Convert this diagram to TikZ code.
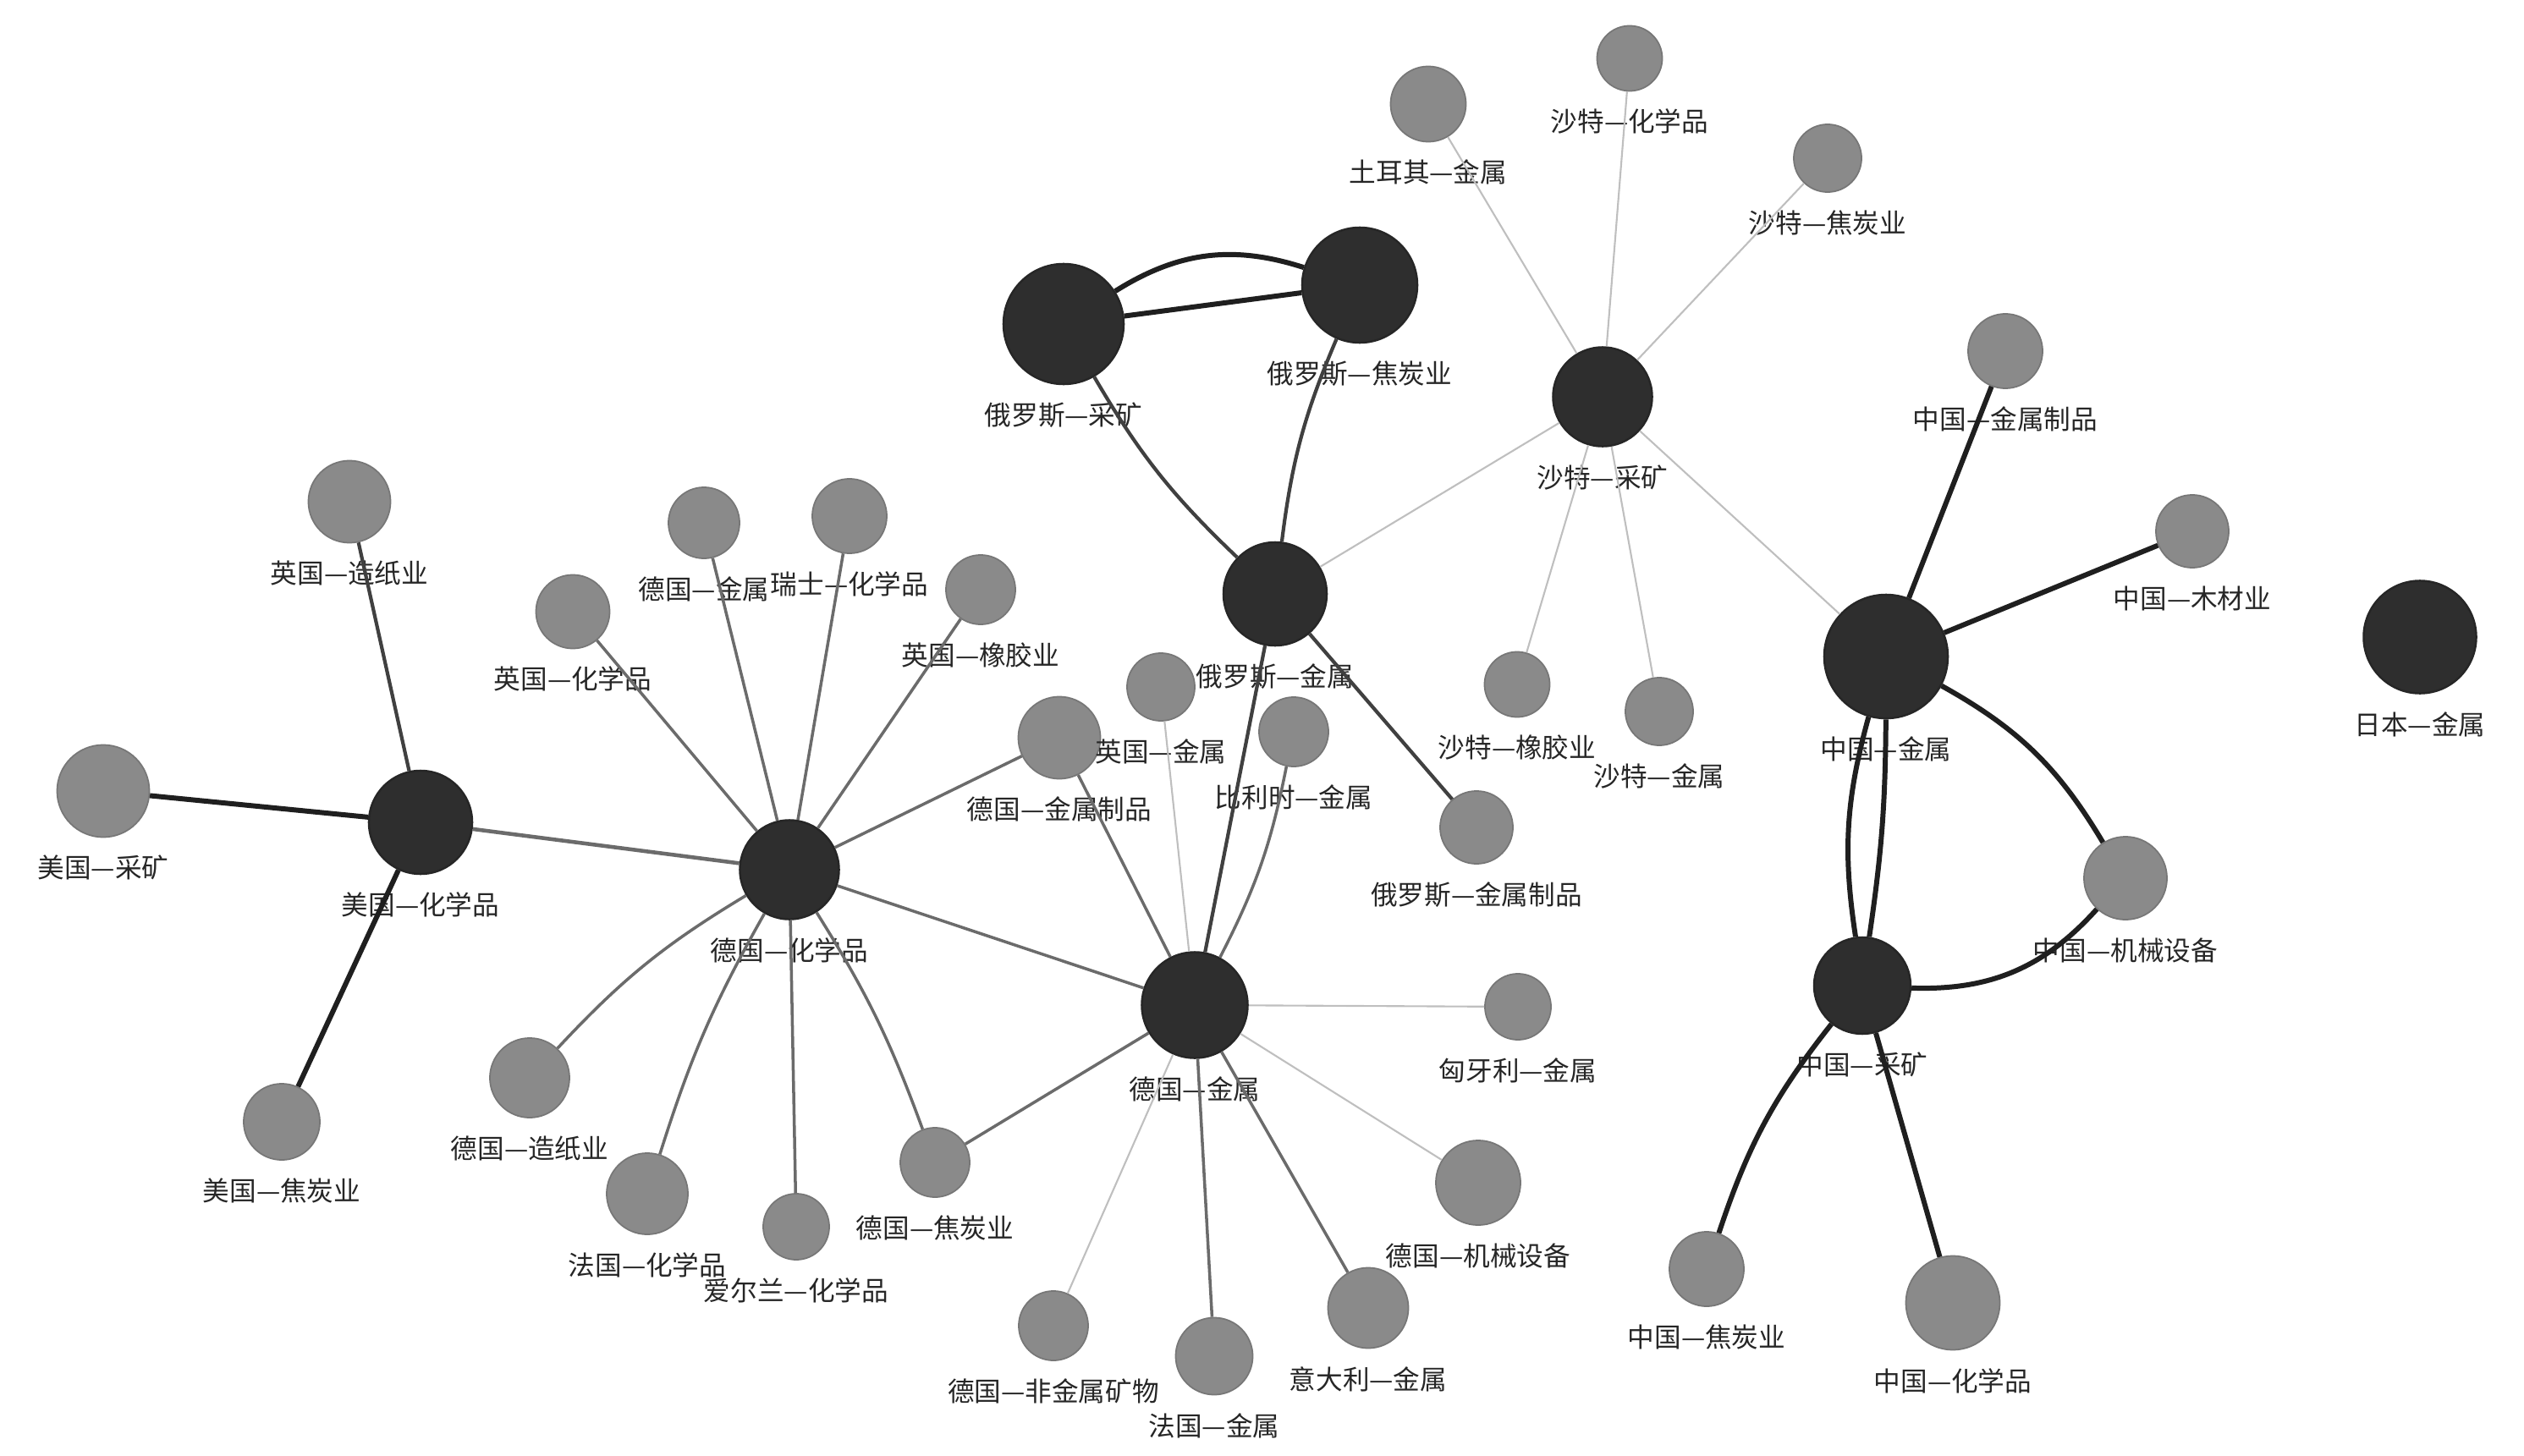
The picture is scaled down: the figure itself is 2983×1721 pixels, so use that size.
\documentclass[tikz,border=0pt]{standalone}
\usepackage{fontspec}
\newfontfamily\cjk{Noto Sans CJK SC}
\usepackage{tikz}
\definecolor{hubfill}{HTML}{2E2E2E}
\definecolor{leaffill}{HTML}{8A8A8A}
\definecolor{leafline}{HTML}{777777}
\tikzset{
  hub/.style={circle, draw=black!85, line width=0.7pt, fill=hubfill, inner sep=0pt},
  leaf/.style={circle, draw=leafline, line width=0.5pt, fill=leaffill, inner sep=0pt},
  every label/.style={font=\cjk\fontsize{9}{10}\selectfont, text=black!85, inner sep=0pt},
  heavy/.style={line width=1.7pt, draw=black!88},
  mid/.style={line width=1.2pt, draw=black!75},
  soft/.style={line width=1pt, draw=black!58},
  faint/.style={line width=0.6pt, draw=black!25},
}
\begin{document}
\begin{tikzpicture}[x=0.01cm, y=-0.01cm, label distance=0.2cm]
\useasboundingbox (0,0) rectangle (2983,1721);
% hubs
\node[hub, minimum size=1.42cm, label=below:俄罗斯—采矿] (ruMin) at (1257,383) {};
\node[hub, minimum size=1.36cm, label=below:俄罗斯—焦炭业] (ruCok) at (1607,337) {};
\node[hub, minimum size=1.17cm, label=below:沙特—采矿] (saMin) at (1894,469) {};
\node[hub, minimum size=1.22cm, label=below:俄罗斯—金属] (ruMet) at (1507,702) {};
\node[hub, minimum size=1.46cm, label=below:中国—金属] (cnMet) at (2229,776) {};
\node[hub, minimum size=1.33cm, label=below:日本—金属] (jpMet) at (2860,753) {};
\node[hub, minimum size=1.14cm, label=below:中国—采矿] (cnMin) at (2201,1165) {};
\node[hub, minimum size=1.25cm, label=below:德国—金属] (deMet) at (1412,1188) {};
\node[hub, minimum size=1.17cm, label=below:德国—化学品] (deChe) at (933,1028) {};
\node[hub, minimum size=1.22cm, label=below:美国—化学品] (usChe) at (497,972) {};
% leaves
\node[leaf, minimum size=0.89cm, label=below:土耳其—金属] (trMet) at (1688,123) {};
\node[leaf, minimum size=0.77cm, label=below:沙特—化学品] (saChe) at (1926,69) {};
\node[leaf, minimum size=0.80cm, label=below:沙特—焦炭业] (saCok) at (2160,187) {};
\node[leaf, minimum size=0.88cm, label=below:中国—金属制品] (cnMpr) at (2370,415) {};
\node[leaf, minimum size=0.86cm, label=below:中国—木材业] (cnWoo) at (2591,628) {};
\node[leaf, minimum size=0.98cm, label=below:中国—机械设备] (cnMac) at (2512,1038) {};
\node[leaf, minimum size=0.88cm, label=below:中国—焦炭业] (cnCok) at (2017,1500) {};
\node[leaf, minimum size=1.11cm, label=below:中国—化学品] (cnChe) at (2308,1540) {};
\node[leaf, minimum size=0.77cm, label=below:沙特—橡胶业] (saRub) at (1793,809) {};
\node[leaf, minimum size=0.80cm, label=below:沙特—金属] (saMet) at (1961,841) {};
\node[leaf, minimum size=0.86cm, label=below:俄罗斯—金属制品] (ruMpr) at (1745,978) {};
\node[leaf, minimum size=0.78cm, label=below:匈牙利—金属] (huMet) at (1794,1190) {};
\node[leaf, minimum size=1.00cm, label=below:德国—机械设备] (deMac) at (1747,1398) {};
\node[leaf, minimum size=0.95cm, label=below:意大利—金属] (itMet) at (1617,1546) {};
\node[leaf, minimum size=0.91cm, label=below:法国—金属] (frMet) at (1435,1603) {};
\node[leaf, minimum size=0.82cm, label=below:德国—非金属矿物] (deNmm) at (1245,1567) {};
\node[leaf, minimum size=0.82cm, label=below:德国—焦炭业] (deCok) at (1105,1374) {};
\node[leaf, minimum size=0.78cm, label=below:爱尔兰—化学品] (ieChe) at (941,1450) {};
\node[leaf, minimum size=0.96cm, label=below:法国—化学品] (frChe) at (765,1411) {};
\node[leaf, minimum size=0.94cm, label=below:德国—造纸业] (dePap) at (626,1274) {};
\node[leaf, minimum size=1.09cm, label=below:美国—采矿] (usMin) at (122,935) {};
\node[leaf, minimum size=0.90cm, label=below:美国—焦炭业] (usCok) at (333,1326) {};
\node[leaf, minimum size=0.97cm, label=below:英国—造纸业] (gbPap) at (413,593) {};
\node[leaf, minimum size=0.87cm, label=below:英国—化学品] (gbChe) at (677,723) {};
\node[leaf, minimum size=0.84cm, label=below:德国—金属] (deMtl) at (832,618) {};
\node[leaf, minimum size=0.88cm, label=below:瑞士—化学品] (chChe) at (1004,610) {};
\node[leaf, minimum size=0.82cm, label=below:英国—橡胶业] (gbRub) at (1159,697) {};
\node[leaf, minimum size=0.97cm, label=below:德国—金属制品] (deMpr) at (1252,872) {};
\node[leaf, minimum size=0.80cm, label=below:英国—金属] (gbMet) at (1372,812) {};
\node[leaf, minimum size=0.82cm, label=below:比利时—金属] (beMet) at (1529,865) {};
% US / Germany
\draw[heavy] (usChe) -- (usMin);
\draw[heavy] (usChe) -- (usCok);
\draw[mid] (usChe) -- (gbPap);
\draw[soft, line width=1.3pt] (usChe) -- (deChe);
\foreach \leaf in {gbChe,deMtl,chChe,gbRub,deMpr,ieChe,deMet}
  \draw[soft] (deChe) -- (\leaf);
\draw[soft] (deChe) to[bend right=8] (dePap);
\draw[soft] (deChe) to[bend right=6] (frChe);
\draw[soft] (deChe) to[bend left=6] (deCok);
\foreach \leaf in {deMpr,deCok,frMet,itMet}
  \draw[soft] (deMet) -- (\leaf);
\draw[soft] (deMet) to[bend right=8] (beMet);
\foreach \leaf in {gbMet,huMet,deMac,deNmm}
  \draw[faint] (deMet) -- (\leaf);
% Russia
\draw[mid] (deMet) -- (ruMet);
\draw[mid] (ruMet) -- (ruMpr);
\draw[mid] (ruMin) to[bend right=8] (ruMet);
\draw[mid] (ruCok) to[bend right=8] (ruMet);
\draw[heavy] (ruMin) to[bend left=25] (ruCok);
\draw[heavy] (ruMin) -- (ruCok);
% Saudi
\foreach \leaf in {trMet,saChe,saCok,ruMet,cnMet,saRub,saMet}
  \draw[faint] (saMin) -- (\leaf);
% China
\draw[heavy] (cnMet) -- (cnMpr);
\draw[heavy] (cnMet) -- (cnWoo);
\draw[heavy] (cnMet) to[bend left=15] (cnMac);
\draw[heavy] (cnMet) to[bend right=12] (cnMin);
\draw[heavy] (cnMet) to[bend left=4] (cnMin);
\draw[heavy] (cnMin) to[bend right=25] (cnMac);
\draw[heavy] (cnMin) to[bend right=10] (cnCok);
\draw[heavy] (cnMin) -- (cnChe);
\end{tikzpicture}
\end{document}
